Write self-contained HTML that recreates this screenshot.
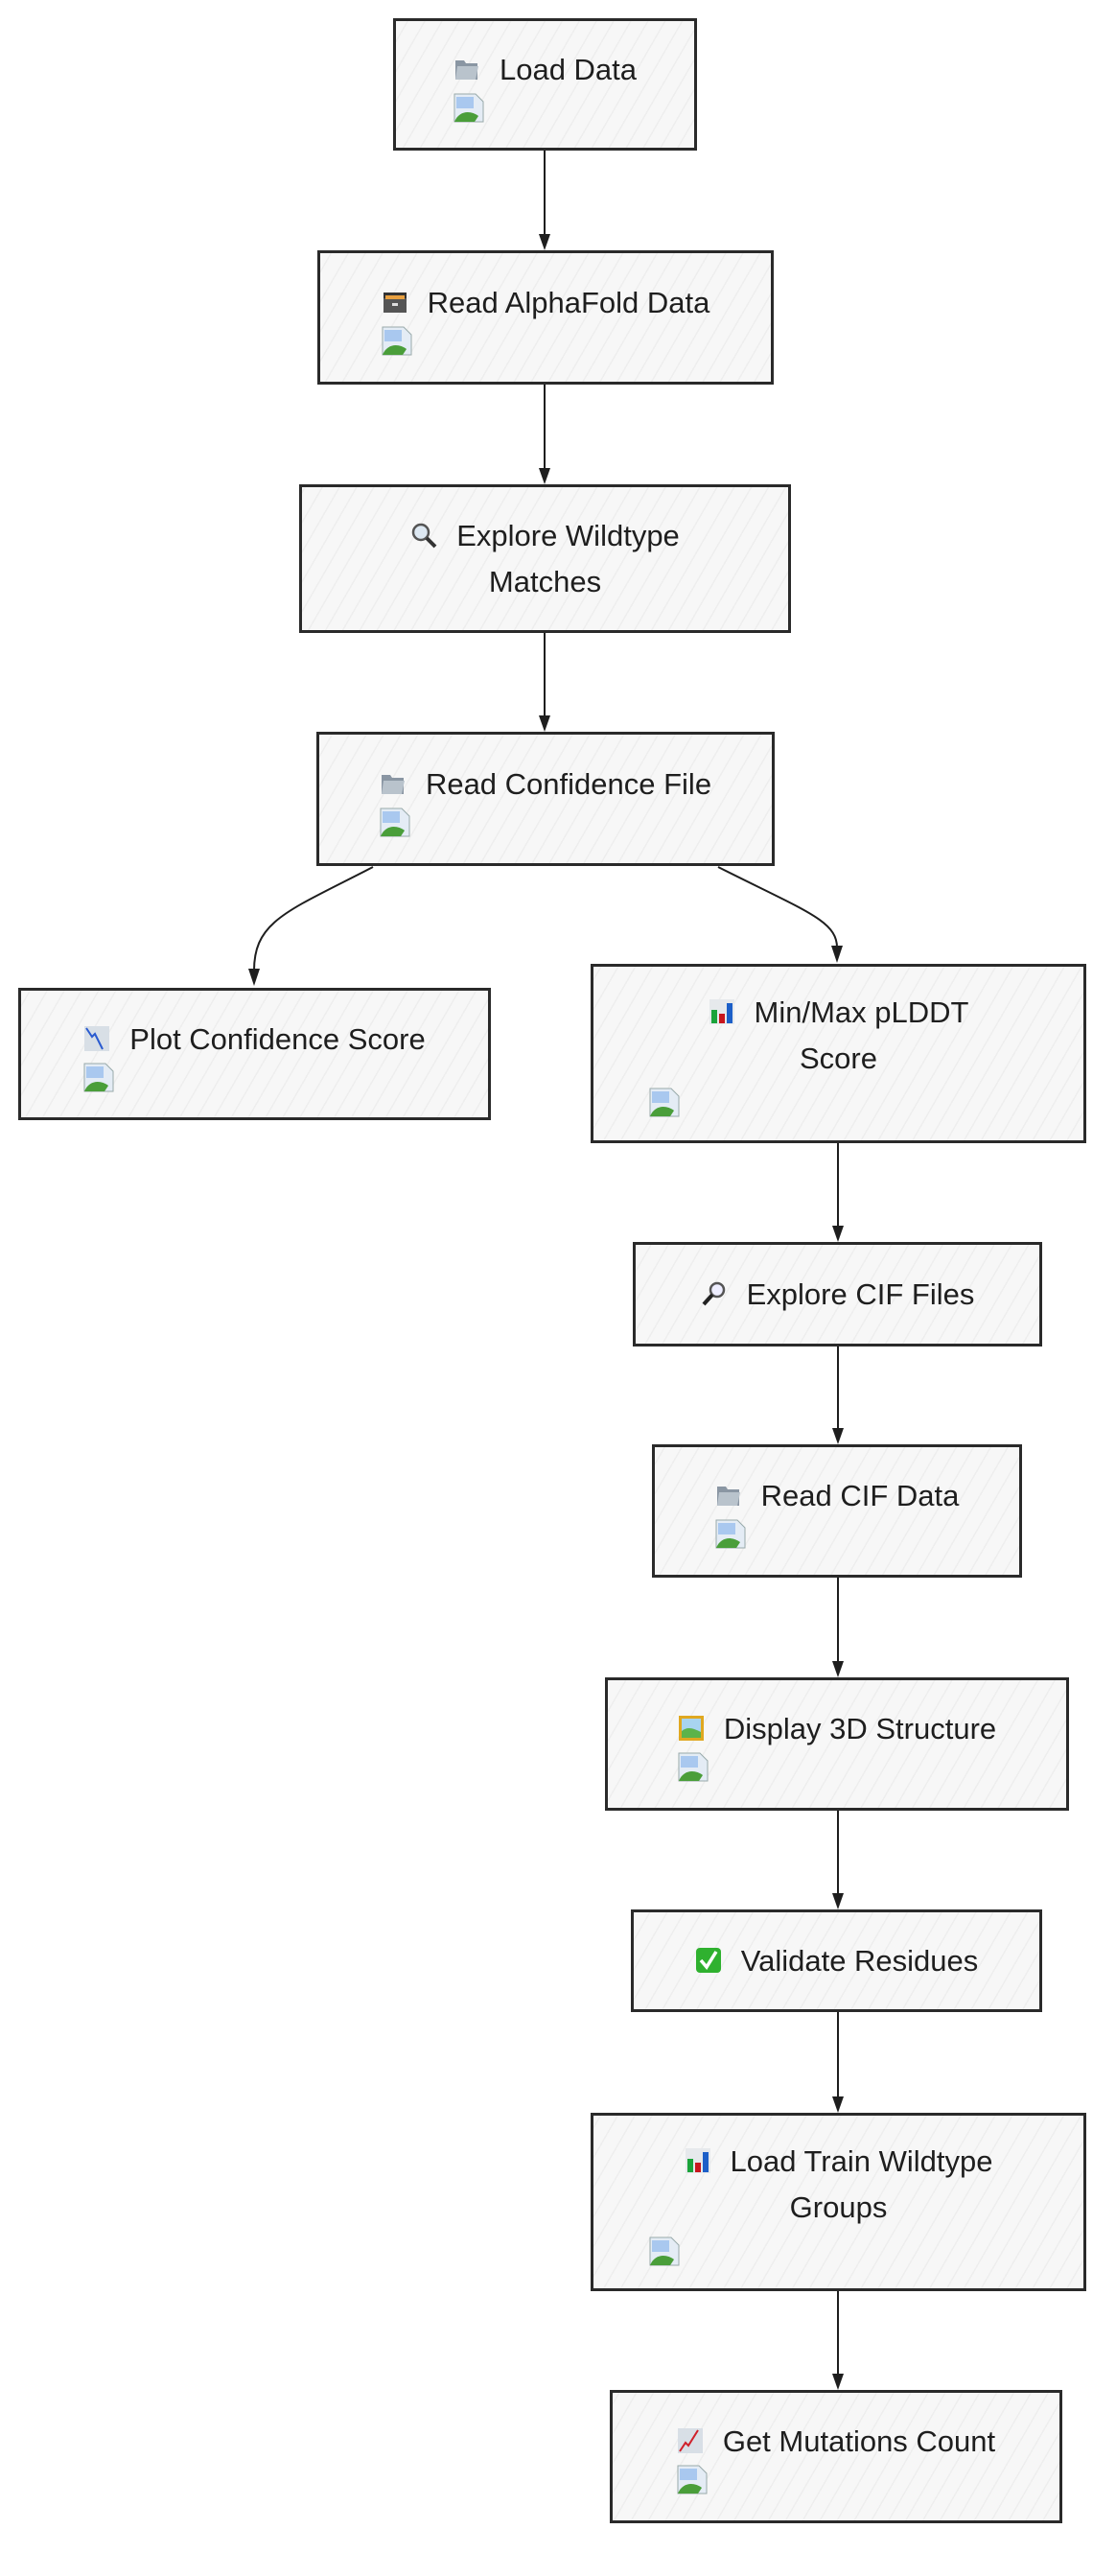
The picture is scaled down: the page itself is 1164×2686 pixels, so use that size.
<!DOCTYPE html>
<html><head><meta charset="utf-8">
<style>
html,body{margin:0;padding:0;background:#fff;}
body{width:1164px;height:2686px;position:relative;overflow:hidden;font-family:"Liberation Sans",sans-serif;color:#1e1e1e;}
.n{position:absolute;box-sizing:border-box;border:3px solid #2a2a2a;background:#f7f7f7;
background-image:repeating-linear-gradient(-60deg,rgba(0,0,0,0) 0 14px,rgba(0,0,0,0.035) 14px 15.5px);
display:flex;align-items:center;justify-content:center;}
.c{display:block;text-align:center;}
.t{font-size:31px;line-height:48px;white-space:nowrap;}
.ic{display:inline-block;width:28px;height:28px;vertical-align:-3px;margin-right:20px;}
.im{display:block;width:32px;height:31px;text-align:left;}
svg.a{position:absolute;left:0;top:0;}
</style></head><body>

<svg class="a" width="1164" height="2686" viewBox="0 0 1164 2686">
<g stroke="#1e1e1e" stroke-width="2" fill="none">
<path d="M568,157 L568,246"/>
<path d="M568,401 L568,490"/>
<path d="M568,660 L568,748"/>
<path d="M389,904 C300,950 265,960 265,1012"/>
<path d="M749,904 C840,950 873,960 873,988"/>
<path d="M874,1192 L874,1280"/>
<path d="M874,1404 L874,1491"/>
<path d="M874,1645 L874,1734"/>
<path d="M874,1888 L874,1976"/>
<path d="M874,2098 L874,2188"/>
<path d="M874,2389 L874,2477"/>
</g>
<g fill="#1e1e1e">
<path d="M562,244 L574,244 L568,261 Z"/>
<path d="M562,488 L574,488 L568,505 Z"/>
<path d="M562,746 L574,746 L568,763 Z"/>
<path d="M259,1010 L271,1010 L265,1028 Z"/>
<path d="M867,986 L879,986 L873,1004 Z"/>
<path d="M868,1278 L880,1278 L874,1295 Z"/>
<path d="M868,1489 L880,1489 L874,1506 Z"/>
<path d="M868,1732 L880,1732 L874,1749 Z"/>
<path d="M868,1974 L880,1974 L874,1991 Z"/>
<path d="M868,2186 L880,2186 L874,2203 Z"/>
<path d="M868,2475 L880,2475 L874,2492 Z"/>
</g>
</svg>

<div class="n" style="left:410px;top:19px;width:317px;height:138px;">
<div class="c"><div class="t"><svg class="ic" viewBox="0 0 28 28"><path d="M2,5 h9 l2,3 h12 v17 h-23z" fill="#8a96a3"/><path d="M4,11 h22 l-3,14 h-21z" fill="#b9c3cc"/></svg>Load Data</div>
<svg class="im" viewBox="0 0 32 31"><path d="M1,1 h22 l8,8 v21 h-30z" fill="#e4ecf5" stroke="#9aa" stroke-width="1"/><rect x="3" y="4" width="18" height="12" fill="#a9c8ef"/><path d="M1,30 C6,18 18,18 26,24 L22,30z" fill="#4a9e3a"/></svg></div></div>

<div class="n" style="left:331px;top:261px;width:476px;height:140px;">
<div class="c"><div class="t"><svg class="ic" viewBox="0 0 28 28"><rect x="2" y="4" width="24" height="6" fill="#333"/><rect x="2" y="10" width="24" height="15" fill="#555"/><rect x="4" y="7" width="20" height="4" fill="#e8a040"/><rect x="11" y="15" width="6" height="3" fill="#ddd"/></svg>Read AlphaFold Data</div>
<svg class="im" viewBox="0 0 32 31"><path d="M1,1 h22 l8,8 v21 h-30z" fill="#e4ecf5" stroke="#9aa" stroke-width="1"/><rect x="3" y="4" width="18" height="12" fill="#a9c8ef"/><path d="M1,30 C6,18 18,18 26,24 L22,30z" fill="#4a9e3a"/></svg></div></div>

<div class="n" style="left:312px;top:505px;width:513px;height:155px;">
<div class="c"><div class="t"><svg class="ic" viewBox="0 0 28 28"><circle cx="11" cy="11" r="8" fill="#dde8f2" stroke="#555" stroke-width="2.5"/><path d="M17,17 L26,26" stroke="#333" stroke-width="4"/></svg>Explore Wildtype</div><div class="t">Matches</div></div></div>

<div class="n" style="left:330px;top:763px;width:478px;height:140px;">
<div class="c"><div class="t"><svg class="ic" viewBox="0 0 28 28"><path d="M2,5 h9 l2,3 h12 v17 h-23z" fill="#8a96a3"/><path d="M4,11 h22 l-3,14 h-21z" fill="#b9c3cc"/></svg>Read Confidence File</div>
<svg class="im" viewBox="0 0 32 31"><path d="M1,1 h22 l8,8 v21 h-30z" fill="#e4ecf5" stroke="#9aa" stroke-width="1"/><rect x="3" y="4" width="18" height="12" fill="#a9c8ef"/><path d="M1,30 C6,18 18,18 26,24 L22,30z" fill="#4a9e3a"/></svg></div></div>

<div class="n" style="left:19px;top:1030px;width:493px;height:138px;">
<div class="c"><div class="t"><svg class="ic" viewBox="0 0 28 28"><rect x="1" y="1" width="26" height="26" fill="#d8dfe6"/><path d="M3,3 L9,12 L12,9 L20,25" stroke="#2a5bd0" stroke-width="2" fill="none"/></svg>Plot Confidence Score</div>
<svg class="im" viewBox="0 0 32 31"><path d="M1,1 h22 l8,8 v21 h-30z" fill="#e4ecf5" stroke="#9aa" stroke-width="1"/><rect x="3" y="4" width="18" height="12" fill="#a9c8ef"/><path d="M1,30 C6,18 18,18 26,24 L22,30z" fill="#4a9e3a"/></svg></div></div>

<div class="n" style="left:616px;top:1005px;width:517px;height:187px;">
<div class="c" style="width:396px;"><div class="t"><svg class="ic" viewBox="0 0 28 28"><rect x="1" y="1" width="26" height="26" fill="#e6e9ec"/><rect x="3" y="12" width="6" height="14" fill="#1aa33a"/><rect x="11" y="16" width="6" height="10" fill="#c8161d"/><rect x="19" y="5" width="6" height="21" fill="#1c5fc8"/></svg>Min/Max pLDDT</div><div class="t">Score</div>
<svg class="im" viewBox="0 0 32 31" style="margin-top:6px"><path d="M1,1 h22 l8,8 v21 h-30z" fill="#e4ecf5" stroke="#9aa" stroke-width="1"/><rect x="3" y="4" width="18" height="12" fill="#a9c8ef"/><path d="M1,30 C6,18 18,18 26,24 L22,30z" fill="#4a9e3a"/></svg></div></div>

<div class="n" style="left:660px;top:1295px;width:427px;height:109px;">
<div class="c"><div class="t"><svg class="ic" viewBox="0 0 28 28"><circle cx="17" cy="10" r="7" fill="#eef" stroke="#555" stroke-width="2.5"/><path d="M12,15 L3,25" stroke="#222" stroke-width="4"/></svg>Explore CIF Files</div></div></div>

<div class="n" style="left:680px;top:1506px;width:386px;height:139px;">
<div class="c"><div class="t"><svg class="ic" viewBox="0 0 28 28"><path d="M2,5 h9 l2,3 h12 v17 h-23z" fill="#8a96a3"/><path d="M4,11 h22 l-3,14 h-21z" fill="#b9c3cc"/></svg>Read CIF Data</div>
<svg class="im" viewBox="0 0 32 31"><path d="M1,1 h22 l8,8 v21 h-30z" fill="#e4ecf5" stroke="#9aa" stroke-width="1"/><rect x="3" y="4" width="18" height="12" fill="#a9c8ef"/><path d="M1,30 C6,18 18,18 26,24 L22,30z" fill="#4a9e3a"/></svg></div></div>

<div class="n" style="left:631px;top:1749px;width:484px;height:139px;">
<div class="c"><div class="t"><svg class="ic" viewBox="0 0 28 28"><rect x="1" y="1" width="26" height="26" fill="#e0a820"/><rect x="4" y="4" width="20" height="20" fill="#a8d4f0"/><path d="M4,24 L4,17 C10,12 16,14 24,18 L24,24z" fill="#5cb34a"/></svg>Display 3D Structure</div>
<svg class="im" viewBox="0 0 32 31"><path d="M1,1 h22 l8,8 v21 h-30z" fill="#e4ecf5" stroke="#9aa" stroke-width="1"/><rect x="3" y="4" width="18" height="12" fill="#a9c8ef"/><path d="M1,30 C6,18 18,18 26,24 L22,30z" fill="#4a9e3a"/></svg></div></div>

<div class="n" style="left:658px;top:1991px;width:429px;height:107px;">
<div class="c"><div class="t"><svg class="ic" viewBox="0 0 28 28"><rect x="1" y="1" width="26" height="26" rx="4" fill="#2fb12f"/><path d="M6,14 L12,21 L22,5" stroke="#fff" stroke-width="3.5" fill="none"/></svg>Validate Residues</div></div></div>

<div class="n" style="left:616px;top:2203px;width:517px;height:186px;">
<div class="c" style="width:396px;"><div class="t"><svg class="ic" viewBox="0 0 28 28"><rect x="1" y="1" width="26" height="26" fill="#e6e9ec"/><rect x="3" y="12" width="6" height="14" fill="#1aa33a"/><rect x="11" y="16" width="6" height="10" fill="#c8161d"/><rect x="19" y="5" width="6" height="21" fill="#1c5fc8"/></svg>Load Train Wildtype</div><div class="t">Groups</div>
<svg class="im" viewBox="0 0 32 31" style="margin-top:6px"><path d="M1,1 h22 l8,8 v21 h-30z" fill="#e4ecf5" stroke="#9aa" stroke-width="1"/><rect x="3" y="4" width="18" height="12" fill="#a9c8ef"/><path d="M1,30 C6,18 18,18 26,24 L22,30z" fill="#4a9e3a"/></svg></div></div>

<div class="n" style="left:636px;top:2492px;width:472px;height:139px;">
<div class="c"><div class="t"><svg class="ic" viewBox="0 0 28 28"><rect x="1" y="1" width="26" height="26" fill="#d8dfe6"/><path d="M3,25 L9,16 L12,19 L22,3" stroke="#d0202a" stroke-width="2" fill="none"/></svg>Get Mutations Count</div>
<svg class="im" viewBox="0 0 32 31"><path d="M1,1 h22 l8,8 v21 h-30z" fill="#e4ecf5" stroke="#9aa" stroke-width="1"/><rect x="3" y="4" width="18" height="12" fill="#a9c8ef"/><path d="M1,30 C6,18 18,18 26,24 L22,30z" fill="#4a9e3a"/></svg></div></div>

</body></html>
